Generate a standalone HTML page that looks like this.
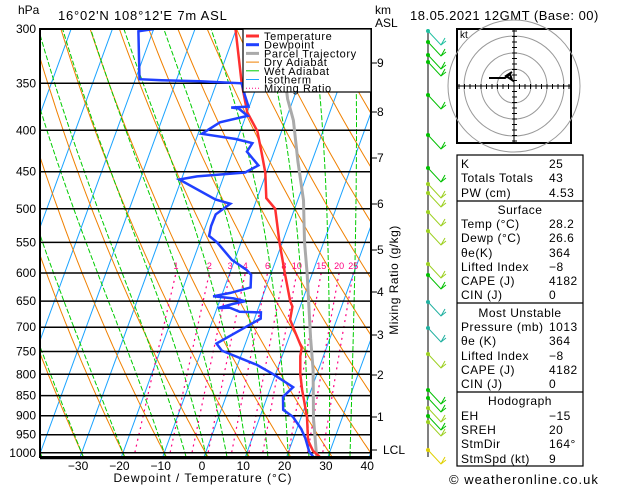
<!DOCTYPE html>
<html><head><meta charset="utf-8"><style>
body{margin:0;background:#fff;width:629px;height:486px;overflow:hidden;font-family:"Liberation Sans",sans-serif}
svg text{font-family:"Liberation Sans",sans-serif}
</style></head><body>
<svg id="c" width="629" height="486" xmlns="http://www.w3.org/2000/svg">
<defs><clipPath id="pc"><rect x="40" y="29" width="331" height="428"/></clipPath></defs>
<g id="bg" clip-path="url(#pc)"></g>
<g id="fg"></g>
</svg>
<script>
const presLevels=[300,350,400,450,500,550,600,650,700,750,800,850,900,950,1000];
const tempTicks=[-30,-20,-10,0,10,20,30,40];
const tempP=[1013,995,965,903,836,800,760,742,700,685,660,650,600,550,500,485,451,425,401,380,350,300];
const tempT=[28.2,25.9,23.7,21.4,17.8,16.0,14.4,14.0,10.1,8.7,8.1,7.1,3.3,-0.7,-4.7,-7.8,-10.3,-13.1,-15.9,-20,-23.9,-30.2];
const dewP=[1013,997,960,935,903,885,853,830,800,779,755,748,733,698,683,671,670,662,663,655,650,645,641,635,625,603,595,578,550,540,525,508,493,487,460,456,451,442,425,415,410,404,391,384,376,375,374,362,350,348,347,346,302,300];
const dewT=[26.6,25,22.9,21.1,18,15,13.8,15.4,9.5,4.7,-2.9,-5.1,-7,-1.1,1.5,1.0,-4.2,-7,-9.8,-6.5,-3.8,-6.9,-12,-8.1,-3.7,-4.7,-6.2,-10.7,-15.8,-18.3,-18.7,-18.6,-16,-20,-30.5,-26.5,-15.2,-12.6,-16.6,-16,-20.4,-29.1,-25.7,-19.6,-22.4,-24.3,-20.2,-22.1,-23.9,-34.2,-43.6,-49,-53.5,-50];
const parcelP=[1010,907,790,722,600,549,488,437,389,366,340];
const parcelT=[27.2,23.1,18.7,15.3,8.7,5.3,1.4,-3.4,-8.1,-11.4,-14.5];
const mixRatios=[1,2,3,4,6,8,10,15,20,25];
const kmLabels=[1,2,3,4,5,6,7,8,9];
const kmY=[417,375,335,292,250,204,158,112,63];

const NS='http://www.w3.org/2000/svg';
const bg=document.getElementById('bg'),fg=document.getElementById('fg');
function yP(p){return 29+352*Math.log(p/300);}
function xT(T,p){return 204+4.13*T+(457-yP(p))*0.365;}
function el(tag,attrs,parent){const e=document.createElementNS(NS,tag);for(const k in attrs)e.setAttribute(k,attrs[k]);(parent||fg).appendChild(e);return e;}
function txt(s,x,y,attrs,parent){const t=el('text',Object.assign({x:x,y:y,'font-size':12,fill:'#000'},attrs||{}),parent);t.textContent=s;return t;}
function pathFrom(ps,ts){let d='';for(let i=0;i<ps.length;i++){d+=(i?'L':'M')+xT(ts[i],ps[i]).toFixed(1)+','+yP(ps[i]).toFixed(1);}return d;}

// isotherms
for(let T=-120;T<=40;T+=10){const l=el('line',{x1:xT(T,1050),y1:yP(1050),x2:xT(T,290),y2:yP(290),stroke:'#1aa3ff','stroke-width':1},bg);
}
// dry adiabats
for(let th=243.15;th<=503.15;th+=10){let d='';for(let p=1050;p>=290;p-=10){const T=th*Math.pow(p/1000,0.286)-273.15;d+=(d?'L':'M')+xT(T,p).toFixed(1)+','+yP(p).toFixed(1);}
const e=el('path',{d:d,stroke:'#f08000','stroke-width':1,fill:'none'},bg);}
// moist adiabats
function es(T){return 6.112*Math.exp(17.67*T/(T+243.5));}
const wetStarts=[-40,-30,-20,-10,-5,0,5,10,15,20,25,30,35,40];
for(const T0 of wetStarts){let T=T0+273.15,p=1050;
 // start at 1000 with T0: integrate down to 1050 first
 let pts=[];let Tk=T0+273.15;p=1000;
 function step(Tk,p,dp){const e=es(Tk-273.15);const rs=0.622*e/(p-e);const Lv=2.5e6,Rd=287,cp=1004;const dTdp=(Rd*Tk+Lv*rs)/(p*(cp+Lv*Lv*rs*0.622/(Rd*Tk*Tk)));return Tk+dTdp*dp;}
 let Td=Tk;for(let q=1000;q<1050;q+=5){Td=step(Td,q,5);} pts.push([1050,Td]);
 Tk=T0+273.15;pts.push([1000,Tk]);
 for(p=1000;p>290;p-=5){Tk=step(Tk,p,-5);pts.push([p-5,Tk]);}
 let d='';pts.sort((a,b)=>b[0]-a[0]);for(const [pp,tt] of pts){d+=(d?'L':'M')+xT(tt-273.15,pp).toFixed(1)+','+yP(pp).toFixed(1);}
 const e=el('path',{d:d,stroke:'#00cc00','stroke-width':1,fill:'none','stroke-dasharray':'5,2'},bg);}
// mixing ratio
for(const w of mixRatios){let d='';for(let p=1050;p>=600;p-=10){const e=w*p/(622+w);const l=Math.log(e/6.112);const T=243.5*l/(17.67-l);d+=(d?'L':'M')+xT(T,p).toFixed(1)+','+yP(p).toFixed(1);}
 const m=el('path',{d:d,stroke:'#ff0080','stroke-width':1.2,fill:'none','stroke-dasharray':'2,4'},bg);
 const e=w*600/(622+w);const l=Math.log(e/6.112);const T=243.5*l/(17.67-l);
 const t=txt(String(w),xT(T,600),269,{'font-size':9,fill:'#ff0080','text-anchor':'middle'},bg);}
// pressure lines
for(const p of presLevels){const l=el('line',{x1:40,x2:371,y1:yP(p),y2:yP(p),stroke:'#000','stroke-width':1.5},bg);
 const t=txt(String(p),36,yP(p)+4,{'text-anchor':'end'});}
// profiles
let e1=el('path',{d:pathFrom(parcelP,parcelT),stroke:'#aaaaaa','stroke-width':3,fill:'none'},bg);
let e2=el('path',{d:pathFrom(tempP,tempT),stroke:'#ff3030','stroke-width':2.5,fill:'none'},bg);
let e3=el('path',{d:pathFrom(dewP,dewT),stroke:'#2040ff','stroke-width':2.5,fill:'none'},bg);
// frame
let fr=el('rect',{x:40,y:29,width:331,height:428,fill:'none',stroke:'#000','stroke-width':2});
el('line',{x1:40,y1:458,x2:372,y2:458,stroke:'#000','stroke-width':2.5});
// x ticks
for(const T of tempTicks){const x=204+4.13*T;const t=txt(T<0?'\u2212'+(-T):String(T),x-2,470,{'text-anchor':'middle'});}
let xt=txt('Dewpoint / Temperature (\u00b0C)',203,482,{'text-anchor':'middle','letter-spacing':'1'});
// km axis
for(let i=0;i<kmLabels.length;i++){el('line',{x1:371,x2:377,y1:kmY[i],y2:kmY[i],stroke:'#000'});const t=txt(String(kmLabels[i]),377,kmY[i]+4);}
el('line',{x1:371,x2:377,y1:450,y2:450,stroke:'#000'});
let lcl=txt('LCL',383,454);
let mr=txt('Mixing Ratio (g/kg)',0,0,{transform:'translate(398,280) rotate(-90)','text-anchor':'middle','letter-spacing':'0.5'});
// titles
let h=txt('hPa',18,14);
let ti=txt('16\u00b002\'N  108\u00b012\'E  7m  ASL',58,20,{'font-size':13,'letter-spacing':'0.8'});
let km=txt('km',375,14);
txt('ASL',375,27);
let dt=txt('18.05.2021  12GMT  (Base: 00)',410,20,{'font-size':13,'letter-spacing':'0.5'});
// legend
const leg=el('g',{});
el('rect',{x:243,y:29,width:128,height:63,fill:'#fff',stroke:'#000','stroke-width':1.2},leg);
const legItems=[['Temperature','#ff3030',3,''],['Dewpoint','#2040ff',3,''],['Parcel Trajectory','#aaaaaa',3,''],['Dry Adiabat','#f08000',1,''],['Wet Adiabat','#00cc00',1,''],['Isotherm','#1aa3ff',1,''],['Mixing Ratio','#ff0080',1,'1,2']];
legItems.forEach((it,i)=>{const y=36+i*8.7;el('line',{x1:246,x2:259,y1:y,y2:y,stroke:it[1],'stroke-width':it[2],'stroke-dasharray':it[3]},leg);const t=txt(it[0],264,y+4,{'font-size':11,'letter-spacing':'0.6'},leg);});
// wind barbs
const barbY=[31,42,55,62,95,135,168,184,193,212,231,264,275,302,328,354,390,398,408,416,422,450];
const barbC=['#20c0a0','#00c000','#00c000','#00c000','#00c000','#00c000','#00c000','#9cd020','#9cd020','#9cd020','#9cd020','#9cd020','#00c000','#20b0a0','#20b0a0','#9cd020','#00c000','#00c000','#9cd020','#00c000','#9cd020','#e0d000'];
el('line',{x1:428,x2:428,y1:29,y2:457,stroke:'#000','stroke-width':1});
barbY.forEach((y,i)=>{const g=el('g',{});
 el('circle',{cx:428,cy:y,r:2,fill:barbC[i]},g);
 el('path',{d:`M428,${y}L441,${y+14}L446,${y+10}M441,${y+14}L445,${y+7}`,stroke:barbC[i],fill:'none','stroke-width':1},g);});
// hodograph
const hg=el('g',{});
el('rect',{x:457,y:29,width:114,height:114,fill:'#fff',stroke:'#000','stroke-width':2},hg);
[17,33,50,66].forEach(r=>el('circle',{cx:514,cy:86,r:r,fill:'none',stroke:'#999'},hg));
el('line',{x1:457,x2:571,y1:86,y2:86,stroke:'#000'},hg);el('line',{x1:514,x2:514,y1:29,y2:143,stroke:'#000'},hg);
for(let k=-10;k<=10;k++){if(!k)continue;el('line',{x1:514+k*5.5,x2:514+k*5.5,y1:84,y2:89,stroke:'#000'},hg);el('line',{y1:86+k*5.5,y2:86+k*5.5,x1:512,x2:517,stroke:'#000'},hg);}
txt('kt',460,38,{'font-size':10},hg);
el('path',{d:'M489,78L505,78L510,74L512,80L506,76L512,72',stroke:'#000','stroke-width':2,fill:'none'},hg);
// table
const tb=el('g',{});
el('rect',{x:457,y:155,width:126,height:311,fill:'#fff',stroke:'#000','stroke-width':1.2},tb);
[201,303,392].forEach(y=>el('line',{x1:457,x2:583,y1:y,y2:y,stroke:'#000','stroke-width':1.2},tb));
const rows=[['K','25',164],['Totals Totals','43',178],['PW (cm)','4.53',193],['Temp (\u00b0C)','28.2',224],['Dewp (\u00b0C)','26.6',238],['\u03b8e(K)','364',253],['Lifted Index','\u22128',267],['CAPE (J)','4182',281],['CIN (J)','0',295],['Pressure (mb)','1013',327],['\u03b8e (K)','364',341],['Lifted Index','\u22128',356],['CAPE (J)','4182',370],['CIN (J)','0',384],['EH','\u221215',416],['SREH','20',430],['StmDir','164\u00b0',444],['StmSpd (kt)','9',459]];
rows.forEach(r=>{const a=txt(r[0],461,r[2]+4,{'font-size':12,'letter-spacing':'0.5'},tb);const b=txt(r[1],549,r[2]+4,{'font-size':12,'letter-spacing':'0.5'},tb);});
[['Surface',210],['Most Unstable',313],['Hodograph',401]].forEach(s=>{const t=txt(s[0],520,s[1]+4,{'text-anchor':'middle','letter-spacing':'0.5'},tb);});
let cp=txt('\u00a9 weatheronline.co.uk',449,484,{'font-size':13,'letter-spacing':'1'});
</script>
</body></html>
